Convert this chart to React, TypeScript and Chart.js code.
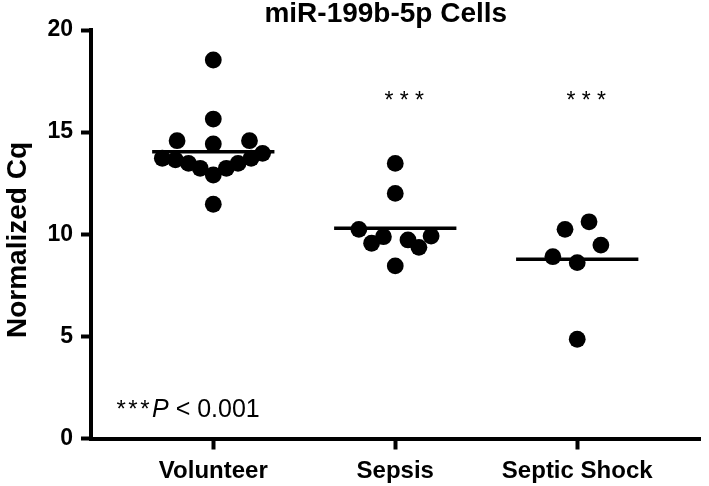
import React, { useEffect, useRef } from "react";
import { Chart, registerables } from "chart.js";

Chart.register(...registerables);

// ---- data ----
const categories = ["Volunteer", "Sepsis", "Septic Shock"];
const volunteerValues = [18.53, 15.64, 14.58, 14.42, 14.58, 13.72, 13.64, 13.47, 13.23, 12.9, 13.23, 13.47, 13.72, 13.96, 11.47];
const volunteerJitter = [0, 0, -0.199, 0, 0.199, -0.28, -0.208, -0.136, -0.072, 0, 0.072, 0.136, 0.208, 0.271, 0];
const sepsisValues = [13.47, 12.0, 10.24, 9.56, 9.88, 9.72, 9.36, 9.91, 8.45];
const sepsisJitter = [0, 0, -0.2, -0.13, -0.065, 0.07, 0.13, 0.197, 0];
const shockValues = [10.24, 10.61, 9.47, 8.9, 8.61, 4.86];
const shockJitter = [-0.067, 0.065, 0.13, -0.134, 0, 0];
const yTicks = [0, 5, 10, 15, 20];
const significance = ["", "***", "***"];
const chartTitle = "miR-199b-5p Cells";
const yTitle = "Normalized Cq";
const footnoteStars = "***";
const footnoteP = "P";
const footnoteRest = " < 0.001";

const groups = [
  { values: volunteerValues, jitter: volunteerJitter },
  { values: sepsisValues, jitter: sepsisJitter },
  { values: shockValues, jitter: shockJitter },
];

const FONT = '"Liberation Sans", Arial, Helvetica, sans-serif';
const MEAN_HALF = 0.336;

const mean = (a: number[]) => a.reduce((s, v) => s + v, 0) / a.length;

const textPlugin = {
  id: "customTexts",
  afterDraw(chart: any) {
    const { ctx, chartArea } = chart;
    const x = chart.scales.x;
    ctx.save();
    ctx.fillStyle = "#000";

    // title
    ctx.font = `bold 28px ${FONT}`;
    ctx.textAlign = "center";
    ctx.textBaseline = "alphabetic";
    ctx.fillText(chartTitle, (chartArea.left + chartArea.right) / 2 - 10, 22);

    // y axis title
    ctx.save();
    ctx.translate(25.5, 240);
    ctx.rotate(-Math.PI / 2);
    ctx.font = `bold 28px ${FONT}`;
    ctx.textAlign = "center";
    ctx.fillText(yTitle, 0, 0);
    ctx.restore();

    // significance stars
    ctx.font = `23px ${FONT}`;
    ctx.textAlign = "center";
    significance.forEach((s, i) => {
      if (!s) return;
      const txt = s.split("").join(" ");
      ctx.fillText(txt, x.getPixelForValue(i + 1) + 9, 108);
    });

    // footnote
    ctx.textAlign = "left";
    let fx = 116.5;
    const fy = 417;
    ctx.font = `24px ${FONT}`;
    (ctx as any).letterSpacing = "2.5px";
    ctx.fillText(footnoteStars, fx, fy);
    fx += ctx.measureText(footnoteStars).width;
    (ctx as any).letterSpacing = "0px";
    ctx.font = `italic 25px ${FONT}`;
    ctx.fillText(footnoteP, fx, fy);
    fx += ctx.measureText(footnoteP).width;
    ctx.font = `25px ${FONT}`;
    ctx.fillText(footnoteRest, fx, fy);

    ctx.restore();
  },
};

export default function App() {
  const canvasRef = useRef<HTMLCanvasElement | null>(null);

  useEffect(() => {
    if (!canvasRef.current) return;

    const pointDatasets = groups.map((g, gi) => ({
      type: "scatter" as const,
      data: g.values.map((v, i) => ({ x: gi + 1 + g.jitter[i], y: v })),
      backgroundColor: "#000",
      borderWidth: 0,
      pointRadius: 8.4,
      pointHoverRadius: 8.4,
      order: 2,
    }));

    const meanDatasets = groups.map((g, gi) => {
      const m = mean(g.values);
      return {
        type: "line" as const,
        data: [
          { x: gi + 1 - MEAN_HALF, y: m },
          { x: gi + 1 + MEAN_HALF, y: m },
        ],
        borderColor: "#000",
        borderWidth: 3.5,
        pointRadius: 0,
        fill: false,
        order: 1,
      };
    });

    const chart = new Chart(canvasRef.current, {
      type: "scatter",
      data: { datasets: [...meanDatasets, ...pointDatasets] as any },
      options: {
        responsive: false,
        animation: false,
        events: [],
        layout: { padding: { top: 30, left: 0, right: 0, bottom: 0 } },
        plugins: {
          legend: { display: false },
          tooltip: { enabled: false },
          title: { display: false },
        },
        scales: {
          x: {
            type: "linear",
            min: 0.328,
            max: 3.678,
            afterBuildTicks: (axis: any) => {
              axis.ticks = categories.map((_, i) => ({ value: i + 1 }));
            },
            afterFit: (axis: any) => {
              axis.height = 47.5;
            },
            ticks: {
              autoSkip: false,
              maxRotation: 0,
              color: "#000",
              padding: 7,
              font: { family: FONT, size: 24, weight: "bold" },
              callback: (v: any) => categories[Math.round(Number(v)) - 1] ?? "",
            },
            grid: {
              drawOnChartArea: false,
              drawTicks: true,
              tickLength: 11,
              tickWidth: 4,
              tickColor: "#000",
            },
            border: { display: true, color: "#000", width: 4 },
          },
          y: {
            type: "linear",
            min: 0,
            max: 20,
            afterBuildTicks: (axis: any) => {
              axis.ticks = yTicks.map((v) => ({ value: v }));
            },
            afterFit: (axis: any) => {
              axis.width = 91;
            },
            ticks: {
              color: "#000",
              padding: 8,
              font: { family: FONT, size: 23, weight: "bold" },
            },
            grid: {
              drawOnChartArea: false,
              drawTicks: true,
              tickLength: 10,
              tickWidth: 4,
              tickColor: "#000",
            },
            border: { display: true, color: "#000", width: 4 },
          },
        },
      } as any,
      plugins: [textPlugin as any],
    });

    return () => chart.destroy();
  }, []);

  return (
    <div style={{ position: "fixed", left: 0, top: 0, width: 709, height: 486, background: "#fff" }}>
      <canvas ref={canvasRef} width={709} height={486} style={{ display: "block" }} />
    </div>
  );
}
